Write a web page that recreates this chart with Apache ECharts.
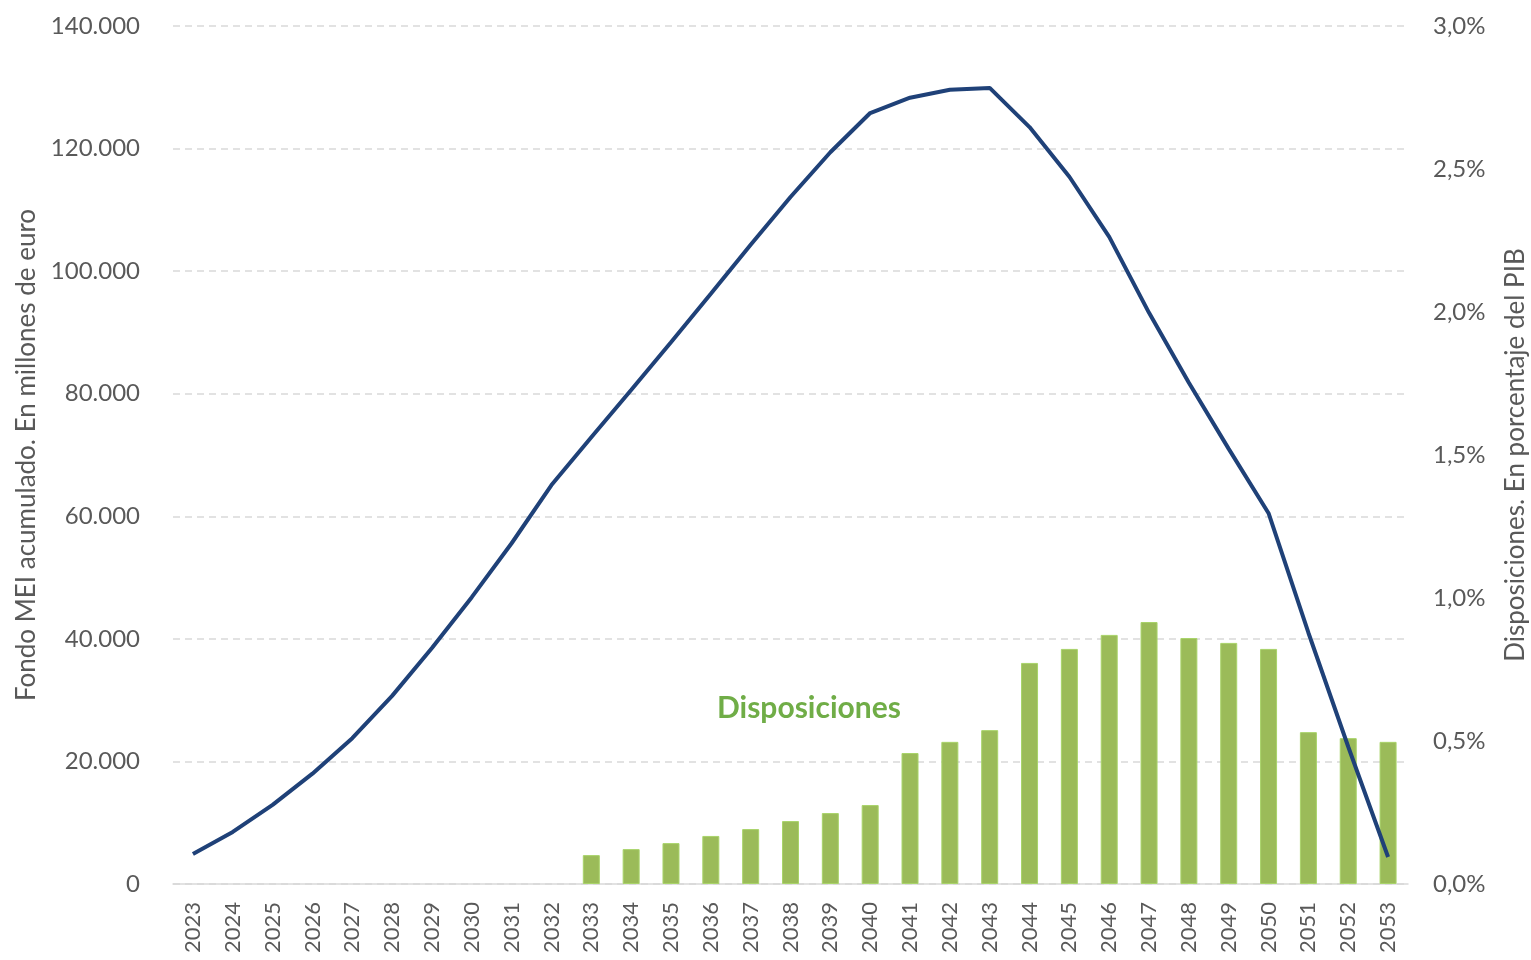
<!DOCTYPE html>
<html>
<head>
<meta charset="utf-8">
<script src="https://cdn.jsdelivr.net/npm/echarts@6/dist/echarts.min.js"></script>
<style>
  html, body { margin: 0; padding: 0; background: #fff; }
  #chart { width: 1531px; height: 960px; }
</style>
</head>
<body>
<div id="chart"></div>
<script>
  var years = [];
  for (var y = 2023; y <= 2053; y++) years.push(String(y));

  // Fondo MEI acumulado (millones de euro)
  var fondo = [4900, 8500, 12900, 18000, 23800, 30700, 38500, 46800, 55600, 65100,
    72900, 80600, 88400, 96300, 104300, 112100, 119400, 125800, 128300, 129600,
    129900, 123500, 115400, 105600, 93200, 81800, 71000, 60500, 41000, 22400, 4400];

  // Disposiciones (% PIB)
  var disposiciones = [null, null, null, null, null, null, null, null, null, null,
    0.101, 0.122, 0.143, 0.168, 0.192, 0.220, 0.248, 0.276, 0.458, 0.497,
    0.538, 0.773, 0.822, 0.871, 0.916, 0.860, 0.843, 0.822, 0.531, 0.510, 0.497];

  var font = 'Lato, "Open Sans", sans-serif';
  var grey = '#595959';

  var myChart = echarts.init(document.getElementById('chart'));
  var option = {
    animation: false,
    textStyle: { fontFamily: font },
    grid: { left: 173, right: 123, top: 26, bottom: 76, outerBoundsMode: 'none', containLabel: false },
    xAxis: {
      type: 'category',
      data: years,
      axisTick: { show: false },
      axisLine: { lineStyle: { color: '#d9d9d9', width: 1.5 } },
      axisLabel: { rotate: 90, color: grey, fontSize: 22, fontFamily: font, margin: 18, interval: 0 }
    },
    yAxis: [
      {
        type: 'value',
        min: 0, max: 140000, interval: 20000,
        name: 'Fondo MEI acumulado. En millones de euro',
        nameLocation: 'middle',
        nameGap: 133,
        nameTextStyle: { color: grey, fontSize: 26, fontFamily: font },
        axisLine: { show: false },
        axisTick: { show: false },
        axisLabel: {
          color: grey, fontSize: 24, fontFamily: font, margin: 33,
          formatter: function (v) { return v === 0 ? '0' : (v / 1000) + '.000'; }
        },
        splitLine: { lineStyle: { color: '#d9d9d9', type: [7, 5], width: 1.5 } }
      },
      {
        type: 'value',
        min: 0, max: 3, interval: 0.5,
        name: 'Disposiciones. En porcentaje del PIB',
        nameLocation: 'middle',
        nameGap: 95,
        nameRotate: 90,
        nameTextStyle: { color: grey, fontSize: 26, fontFamily: font },
        axisLine: { show: false },
        axisTick: { show: false },
        splitLine: { show: false },
        axisLabel: {
          color: grey, fontSize: 24, fontFamily: font, margin: 25,
          formatter: function (v) { return v.toFixed(1).replace('.', ',') + '%'; }
        }
      }
    ],
    series: [
      {
        name: 'Disposiciones',
        type: 'bar',
        yAxisIndex: 1,
        data: disposiciones,
        barWidth: 17,
        itemStyle: { color: '#9bbb59', borderColor: '#a9d46a', borderWidth: 1 }
      },
      {
        name: 'Fondo MEI',
        type: 'line',
        yAxisIndex: 0,
        data: fondo,
        symbol: 'none',
        lineStyle: { color: '#1f4178', width: 4 },
        z: 5
      }
    ],
    graphic: [
      {
        type: 'text',
        left: 717,
        top: 693,
        style: { text: 'Disposiciones', fill: '#70ad47', font: 'bold 30px ' + font }
      }
    ]
  };
  myChart.setOption(option);
</script>
</body>
</html>
